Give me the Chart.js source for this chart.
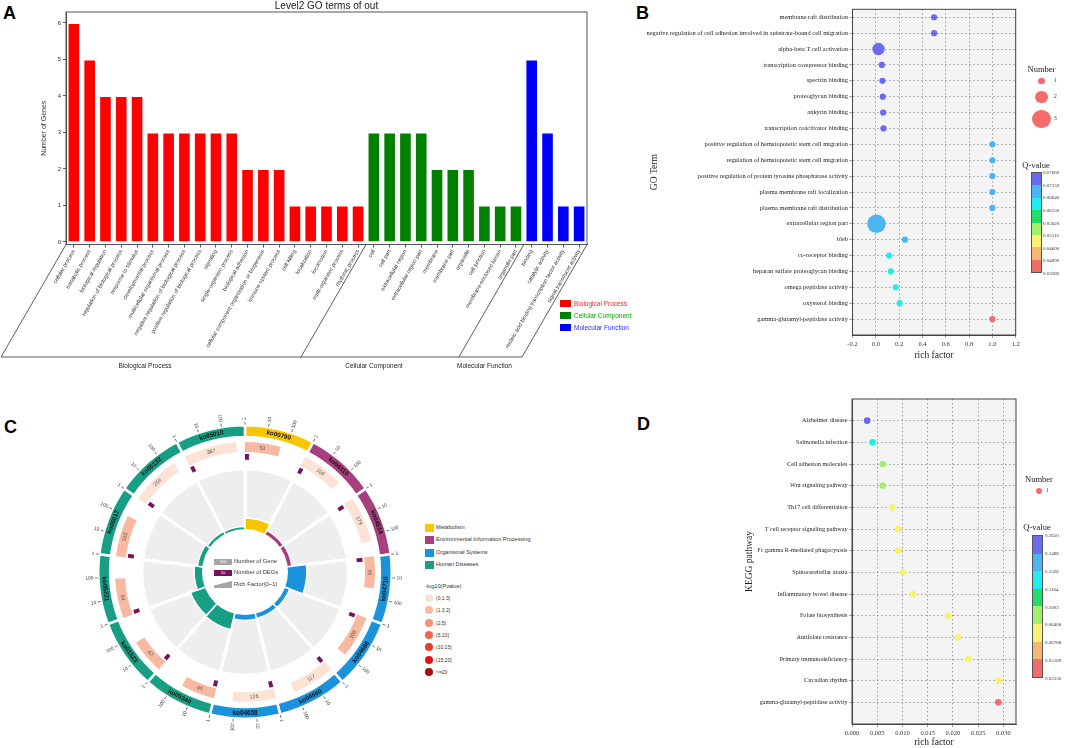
<!DOCTYPE html>
<html>
<head>
<meta charset="utf-8">
<script src="https://cdn.jsdelivr.net/npm/chart.js@4.4.1/dist/chart.umd.min.js"></script>
<style>
  body { margin:0; width:1065px; height:748px; position:relative; overflow:hidden; background:#fff;
         font-family:"Liberation Sans", Arial, sans-serif; color:#333; }
  .pos { position:absolute; }
  .tag { position:absolute; font-weight:bold; font-size:18px; line-height:18px; color:#000; }
</style>
</head>
<body>
<div class="tag" style="left:3px;top:4px">A</div>
<div class="tag" style="left:636px;top:4px">B</div>
<div class="tag" style="left:4px;top:418px">C</div>
<div class="tag" style="left:637px;top:415px">D</div>

<div class="pos" style="left:0;top:0;width:600px;height:380px"><canvas id="chartA"></canvas></div>
<div class="pos" style="left:600px;top:0;width:465px;height:380px"><canvas id="chartB"></canvas></div>
<div class="pos" style="left:75px;top:402px;width:340px;height:340px"><canvas id="chartC"></canvas></div>
<div class="pos" style="left:141px;top:468px;width:208px;height:208px"><canvas id="chartC2"></canvas></div>
<div class="pos" style="left:202px;top:529px;width:86px;height:86px;border-radius:50%;background:#fff"></div>
<div class="pos" style="left:640px;top:385px;width:425px;height:363px"><canvas id="chartD"></canvas></div>

<script>
const SANS = '"Liberation Sans", Arial, sans-serif';
const SERIF = '"Liberation Serif", "Times New Roman", serif';

// ---- A: level2 GO terms ----
const goTerms = ['cellular process', 'metabolic process', 'biological regulation', 'regulation of biological process',
  'response to stimulus', 'developmental process', 'multicellular organismal process',
  'negative regulation of biological process', 'positive regulation of biological process', 'signaling',
  'single-organism process', 'biological adhesion', 'cellular component organization or biogenesis',
  'immune system process', 'cell killing', 'localization', 'locomotion', 'multi-organism process', 'rhythmic process',
  'cell', 'cell part', 'extracellular region', 'extracellular region part', 'membrane', 'membrane part',
  'organelle', 'cell junction', 'membrane-enclosed lumen', 'organelle part',
  'binding', 'catalytic activity', 'nucleic acid binding transcription factor activity', 'signal transducer activity'];
const goCounts = [6, 5, 4, 4, 4, 3, 3, 3, 3, 3, 3, 2, 2, 2, 1, 1, 1, 1, 1,
  3, 3, 3, 3, 2, 2, 2, 1, 1, 1,
  5, 3, 1, 1];
const goGroupNames = ['Biological Process', 'Cellular Component', 'Molecular Function'];
const goGroupSizes = [19, 10, 4];
const goGroupColors = ['#ff0000', '#008000', '#0000ff'];
const goLegendColors = ['#ff2222', '#00a000', '#2a2aff'];
const goYTicks = [0, 1, 2, 3, 4, 5, 6];

// ---- B: GO enrichment bubbles ----
const bTerms = ['membrane raft distribution',
  'negative regulation of cell adhesion involved in substrate-bound cell migration',
  'alpha-beta T cell activation', 'transcription corepressor binding', 'spectrin binding',
  'proteoglycan binding', 'ankyrin binding', 'transcription coactivator binding',
  'positive regulation of hematopoietic stem cell migration', 'regulation of hematopoietic stem cell migration',
  'positive regulation of protein tyrosine phosphatase activity', 'plasma membrane raft localization',
  'plasma membrane raft distribution', 'extracellular region part', 'bleb', 'co-receptor binding',
  'heparan sulfate proteoglycan binding', 'omega peptidase activity', 'oxysterol binding',
  'gamma-glutamyl-peptidase activity'];
const bRich = [0.5, 0.5, 0.023, 0.052, 0.057, 0.06, 0.063, 0.066, 1.0, 1.0, 1.0, 1.0, 1.0,
  0.006, 0.25, 0.115, 0.129, 0.17, 0.204, 1.0];
const bQ = [0.0745, 0.0745, 0.0745, 0.0745, 0.0745, 0.0745, 0.0745, 0.0745,
  0.0690, 0.0690, 0.0690, 0.0690, 0.0690, 0.0690, 0.0690,
  0.0640, 0.0640, 0.0640, 0.0640, 0.0365];
const bNum = [1, 1, 2, 1, 1, 1, 1, 1, 1, 1, 1, 1, 1, 3, 1, 1, 1, 1, 1, 1];
const bXTicks = [-0.2, 0, 0.2, 0.4, 0.6, 0.8, 1.0, 1.2];
const bQTicks = [0.03580, 0.04090, 0.04600, 0.05110, 0.05620, 0.06130, 0.06640, 0.07150, 0.07660];
const bQTickText = ['0.03580', '0.04090', '0.04600', '0.05110', '0.05620', '0.06130', '0.06640', '0.07150', '0.07660'];

// ---- C: circos of KEGG pathways ----
const koIds = ['ko00790', 'ko04310', 'ko04514', 'ko04710', 'ko04666', 'ko04660', 'ko04658',
  'ko05340', 'ko01523', 'ko05221', 'ko05017', 'ko05132', 'ko05010'];
const koClass = [0, 1, 1, 2, 2, 2, 2, 3, 3, 3, 3, 3, 3];
const koGenes = [53, 108, 179, 35, 108, 117, 125, 43, 47, 84, 103, 256, 387];
const koDegs = [1, 1, 1, 1, 1, 1, 1, 1, 1, 1, 1, 1, 1];
const koPBin = [1, 0, 0, 1, 1, 0, 0, 1, 1, 1, 1, 0, 0];
const koRich = [0.18, 0.065, 0.07, 0.31, 0.08, 0.08, 0.09, 0.27, 0.25, 0.13, 0.08, 0.05, 0.04];
const koTickLabels = ['1', '10', '100'];
const classNames = ['Metabolism', 'Environmental Information Processing', 'Organismal Systems', 'Human Diseases'];
const classColors = ['#f7c600', '#a63f7e', '#1a93dc', '#169f84'];
const pBinNames = ['(0,1.3]', '(1.3,2]', '(2,5]', '(5,10]', '(10,15]', '(15,20]', '>=20'];
const pBinColors = ['#fde2d6', '#f8b9a0', '#f6937a', '#f26650', '#ef3b2c', '#e01418', '#a50f15'];
const DEG_COLOR = '#7a1060';

// ---- D: KEGG enrichment bubbles ----
const kTerms = ['Alzheimer disease', 'Salmonella infection', 'Cell adhesion molecules', 'Wnt signaling pathway',
  'Th17 cell differentiation', 'T cell receptor signaling pathway', 'Fc gamma R-mediated phagocytosis',
  'Spinocerebellar ataxia', 'Inflammatory bowel disease', 'Folate biosynthesis', 'Antifolate resistance',
  'Primary immunodeficiency', 'Circadian rhythm', 'gamma-glutamyl-peptidase activity'];
const kRich = [0.0030, 0.0041, 0.0061, 0.0061, 0.0080, 0.0091, 0.0091, 0.0101, 0.0121, 0.0191, 0.0210,
  0.0231, 0.0290, 0.0290];
const kQ = [0.158, 0.125, 0.092, 0.092, 0.075, 0.075, 0.075, 0.075, 0.075, 0.075, 0.075, 0.075, 0.075, 0.045];
const kNum = [1, 1, 1, 1, 1, 1, 1, 1, 1, 1, 1, 1, 1, 1];
const kXTicks = [0, 0.005, 0.010, 0.015, 0.020, 0.025, 0.030];
const kQTicks = [0.03550, 0.05169, 0.06788, 0.08406, 0.1003, 0.1164, 0.1326, 0.1488, 0.1650];
const kQTickText = ['0.03550', '0.05169', '0.06788', '0.08406', '0.1003', '0.1164', '0.1326', '0.1488', '0.1650'];

// Q-value colour bands, low to high
const qColors = ['#f46b6b', '#f7b673', '#f6f46e', '#a2ef6a', '#22dc6c', '#20eeee', '#4cb4f0', '#6b6bf2'];

function qColor(q, ticks) {
  for (let i = 0; i < qColors.length; i++) {
    if (q <= ticks[i + 1]) return qColors[i];
  }
  return qColors[qColors.length - 1];
}

// ---------- shared plugins ----------
const plotBg = {
  id: 'plotBg',
  beforeDraw(c, args, o) {
    const a = c.chartArea;
    c.ctx.save();
    c.ctx.fillStyle = o.color || '#f4f4f4';
    c.ctx.fillRect(a.left, a.top, a.right - a.left, a.bottom - a.top);
    c.ctx.restore();
  }
};
const frame = {
  id: 'frame',
  afterDraw(c, args, o) {
    const a = c.chartArea;
    c.ctx.save();
    c.ctx.strokeStyle = o.color || '#444';
    c.ctx.lineWidth = 1;
    c.ctx.strokeRect(a.left, a.top, a.right - a.left, a.bottom - a.top);
    c.ctx.restore();
  }
};

// ---------- A ----------
const bracket = {
  id: 'bracket',
  afterDraw(c) {
    const xs = c.scales.x, ctx = c.ctx, top = c.chartArea.bottom, base = 357;
    const dx = (base - top) / Math.tan(Math.PI / 3);
    const edges = [-0.5];
    goGroupSizes.forEach(n => edges.push(edges[edges.length - 1] + n));
    const px = edges.map(e => xs.getPixelForValue(e));
    ctx.save();
    ctx.strokeStyle = '#333';
    ctx.lineWidth = 0.8;
    ctx.beginPath();
    px.forEach(p => { ctx.moveTo(p, top); ctx.lineTo(p - dx, base); });
    ctx.moveTo(px[0] - dx, base);
    ctx.lineTo(px[px.length - 1] - dx, base);
    ctx.stroke();
    ctx.fillStyle = '#222';
    ctx.font = '6.5px ' + SANS;
    ctx.textAlign = 'center';
    ctx.textBaseline = 'middle';
    goGroupNames.forEach((g, i) => ctx.fillText(g, (px[i] + px[i + 1]) / 2 - dx - 6, base + 9));
    ctx.restore();
  }
};

const groupOf = [];
goGroupSizes.forEach((n, g) => { for (let i = 0; i < n; i++) groupOf.push(g); });

new Chart(document.getElementById('chartA'), {
  type: 'bar',
  data: {
    labels: goTerms,
    datasets: [{
      data: goCounts,
      backgroundColor: groupOf.map(g => goGroupColors[g]),
      borderColor: 'rgba(255,255,255,0.45)',
      borderWidth: 1,
      barPercentage: 0.8,
      categoryPercentage: 1
    }]
  },
  options: {
    responsive: true, maintainAspectRatio: false, animation: false,
    layout: { padding: { left: 36, right: 13, top: 0, bottom: 0 } },
    plugins: {
      legend: { display: false }, tooltip: { enabled: false },
      title: { display: true, text: 'Level2 GO terms of out', fullSize: false, color: '#222',
        font: { family: SANS, size: 10, weight: 'normal' }, padding: { top: 0, bottom: 0 } },
      frame: { color: '#555' }
    },
    scales: {
      x: {
        grid: { display: true, drawOnChartArea: false, offset: false, tickLength: 3, color: '#555' },
        border: { color: '#555' },
        ticks: { autoSkip: false, minRotation: 60, maxRotation: 60, padding: 1, color: '#333',
          font: { family: SANS, size: 5.5 } },
        afterFit: s => { s.height = 135.5; }
      },
      y: {
        min: -0.07, max: 6.3,
        afterBuildTicks: s => { s.ticks = goYTicks.map(v => ({ value: v })); },
        grid: { display: true, drawOnChartArea: false, tickLength: 3, color: '#555' },
        border: { color: '#555' },
        ticks: { padding: 2, color: '#333', font: { family: SANS, size: 6 } },
        title: { display: true, text: 'Number of Genes', color: '#333', font: { family: SANS, size: 7 },
          padding: { top: 4, bottom: 0 } },
        afterFit: s => { s.width = 30; }
      }
    }
  },
  plugins: [frame, bracket]
});

// ---------- B and D bubble plots ----------
function bubbleChart(id, terms, rich, q, num, qTicks, rScale, xTicks, xFmt, yMin, yMax, xMin, xMax, box, yTitle) {
  return new Chart(document.getElementById(id), {
    type: 'bubble',
    data: {
      datasets: [{
        data: terms.map((t, i) => ({ x: rich[i], y: i, r: num[i] * rScale })),
        backgroundColor: q.map(v => qColor(v, qTicks)),
        borderWidth: 0
      }]
    },
    options: {
      responsive: true, maintainAspectRatio: false, animation: false,
      layout: { padding: box.padding },
      plugins: { legend: { display: false }, tooltip: { enabled: false },
        plotBg: { color: '#f4f4f4' }, frame: { color: '#444' } },
      scales: {
        x: {
          type: 'linear', min: xMin, max: xMax,
          afterBuildTicks: s => { s.ticks = xTicks.map(v => ({ value: v })); },
          ticks: { callback: v => v.toFixed(xFmt), color: '#333', padding: 2, font: { family: SERIF, size: 6.5 } },
          grid: { color: '#777', lineWidth: 0.7, tickLength: 3 },
          border: { color: '#444', dash: [1.5, 2.5] },
          title: { display: true, text: 'rich factor', color: '#222', font: { family: SERIF, size: 9.5 },
            padding: { top: 0, bottom: 0 } },
          afterFit: s => { s.height = box.xh; }
        },
        y: {
          type: 'linear', reverse: true, min: yMin, max: yMax,
          afterBuildTicks: s => { s.ticks = terms.map((t, i) => ({ value: i })); },
          ticks: { callback: v => terms[v], color: '#222', padding: 1.5, font: { family: SERIF, size: box.fs } },
          grid: { color: '#777', lineWidth: 0.7, tickLength: 3 },
          border: { color: '#444', dash: [1.5, 2.5] },
          title: { display: true, text: yTitle, color: '#222', font: { family: SERIF, size: 9.5 },
            padding: { top: 4, bottom: 0 } },
          afterFit: s => { s.width = box.yw; }
        }
      }
    },
    plugins: [plotBg, frame]
  });
}

bubbleChart('chartB', bTerms, bRich, bQ, bNum, bQTicks, 3.1, bXTicks, 1, -0.5, 20, -0.2, 1.2,
  { padding: { left: 45, right: 49.3, top: 5.7, bottom: 19 }, xh: 26, yw: 207.5, fs: 6.4 }, 'GO Term');
bubbleChart('chartD', kTerms, kRich, kQ, kNum, kQTicks, 3.3, kXTicks, 3, -1, 14, 0, 0.0325,
  { padding: { left: 100, right: 49, top: 14, bottom: 0 }, xh: 24, yw: 112, fs: 6.2 }, 'KEGG pathway');

// ---------- C circos ----------
const SPAN = 3; // each sector spans log10 1..1000
const CLEAR = 'rgba(0,0,0,0)';
const norm = a => ((a % (2 * Math.PI)) + 2 * Math.PI) % (2 * Math.PI);

const ringText = {
  id: 'ringText',
  afterDatasetsDraw(c) {
    const ctx = c.ctx;
    function tangent(txt, cx, cy, r, a, font, color) {
      const th = norm(a + Math.PI / 2);
      const rot = (th > Math.PI / 2 && th < 3 * Math.PI / 2) ? th - Math.PI : th;
      ctx.save();
      ctx.translate(cx + r * Math.cos(a), cy + r * Math.sin(a));
      ctx.rotate(rot);
      ctx.font = font;
      ctx.fillStyle = color;
      ctx.textAlign = 'center';
      ctx.textBaseline = 'middle';
      ctx.fillText(txt, 0, 0);
      ctx.restore();
    }
    c.getDatasetMeta(0).data.forEach((arc, i) => {
      const p = arc.getProps(['x', 'y', 'startAngle', 'endAngle', 'innerRadius', 'outerRadius'], true);
      tangent(koIds[i], p.x, p.y, (p.innerRadius + p.outerRadius) / 2, (p.startAngle + p.endAngle) / 2,
        'bold 6.3px ' + SANS, '#111');
      koTickLabels.forEach((lab, k) => {
        const a = p.startAngle + (p.endAngle - p.startAngle) * k / SPAN;
        const th = norm(a + Math.PI / 2);
        ctx.save();
        ctx.translate(p.x, p.y);
        ctx.rotate(a);
        ctx.strokeStyle = '#444';
        ctx.lineWidth = 0.7;
        ctx.beginPath();
        ctx.moveTo(p.outerRadius + 0.5, 0);
        ctx.lineTo(p.outerRadius + 3.5, 0);
        ctx.stroke();
        ctx.font = '4.8px ' + SANS;
        ctx.fillStyle = '#333';
        ctx.textBaseline = 'middle';
        if (th < Math.PI) {
          ctx.textAlign = 'left';
          ctx.fillText(lab, p.outerRadius + 5, 0);
        } else {
          ctx.translate(p.outerRadius + 5, 0);
          ctx.rotate(Math.PI);
          ctx.textAlign = 'right';
          ctx.fillText(lab, 0, 0);
        }
        ctx.restore();
      });
    });
    const genes = c.getDatasetMeta(2).data;
    koGenes.forEach((g, i) => {
      const p = genes[2 * i].getProps(['x', 'y', 'startAngle', 'endAngle', 'innerRadius', 'outerRadius'], true);
      tangent(String(g), p.x, p.y, (p.innerRadius + p.outerRadius) / 2, (p.startAngle + p.endAngle) / 2,
        '5.3px ' + SANS, '#555');
    });
  }
};

const gapRing = w => ({ data: [1], backgroundColor: [CLEAR], borderWidth: 0, weight: w });

new Chart(document.getElementById('chartC'), {
  type: 'doughnut',
  data: {
    labels: koIds,
    datasets: [
      { data: koIds.map(() => SPAN), backgroundColor: koClass.map(k => classColors[k]),
        borderColor: '#fff', borderWidth: 2.5, weight: 12 },
      gapRing(5),
      { data: koGenes.flatMap(g => [Math.log10(g), SPAN - Math.log10(g)]),
        backgroundColor: koPBin.flatMap(b => [pBinColors[b], CLEAR]), borderWidth: 0, weight: 10 },
      gapRing(2),
      { data: koDegs.flatMap(d => [Math.log10(d + 1) * 0.7, SPAN - Math.log10(d + 1) * 0.7]),
        backgroundColor: koDegs.flatMap(() => [DEG_COLOR, CLEAR]), borderWidth: 0, weight: 6 },
      gapRing(9),
      { data: koIds.map(() => SPAN), backgroundColor: '#eeeeee', borderColor: '#fff', borderWidth: 3, weight: 61 }
    ]
  },
  options: {
    responsive: true, maintainAspectRatio: false, animation: false,
    cutout: 43,
    layout: { padding: 22 },
    plugins: { legend: { display: false }, tooltip: { enabled: false } }
  },
  plugins: [ringText]
});

// rich factor bars: value 0 sits on the inner white circle
const RF_BASE = 43 / (104 - 43);
new Chart(document.getElementById('chartC2'), {
  type: 'polarArea',
  data: {
    labels: koIds,
    datasets: [{ data: koRich, backgroundColor: koClass.map(k => classColors[k]), borderColor: '#fff', borderWidth: 1.5 }]
  },
  options: {
    responsive: true, maintainAspectRatio: false, animation: false,
    layout: { padding: 0 },
    plugins: { legend: { display: false }, tooltip: { enabled: false } },
    scales: { r: { display: false, min: -RF_BASE, max: 1 } }
  }
});

// ---------- HTML legends ----------
function box(css) {
  const e = document.createElement('div');
  e.style.cssText = 'position:absolute;' + css;
  document.body.appendChild(e);
  return e;
}
function text(x, y, txt, size, opt = {}) {
  const e = box('left:' + x + 'px;top:' + y + 'px;font-size:' + size + 'px;line-height:1;white-space:nowrap;' +
    'color:' + (opt.color || '#333') + ';font-family:' + (opt.family || SANS) + ';' +
    'transform:translate(' + (opt.center ? '-50%' : '0') + ',-50%);' + (opt.weight ? 'font-weight:' + opt.weight + ';' : ''));
  e.textContent = txt;
  return e;
}
function colorBar(x, y, w, h, ticksText, labelX, size) {
  const n = qColors.length;
  const stops = qColors.map((c, i) => c + ' ' + (i * 100 / n) + '%,' + c + ' ' + ((i + 1) * 100 / n) + '%').join(',');
  box('left:' + x + 'px;top:' + y + 'px;width:' + w + 'px;height:' + h + 'px;border:1px solid #555;box-sizing:border-box;' +
    'background:linear-gradient(to top,' + stops + ')');
  ticksText.forEach((t, i) => {
    text(labelX, y + h - i * h / (ticksText.length - 1), t, size, { family: SERIF });
  });
}

// A legend
goGroupNames.forEach((g, i) => {
  box('left:560px;top:' + (300 + i * 12) + 'px;width:11px;height:7px;background:' + goGroupColors[i]);
  text(574, 304 + i * 12, g, 6.5, { color: goLegendColors[i] });
});

// B legends
text(1041.5, 69, 'Number', 8.5, { family: SERIF, center: true, color: '#222' });
[1, 2, 3].forEach((n, i) => {
  const r = n * 3.1, cy = [81, 97, 119][i];
  box('left:' + (1041.5 - r) + 'px;top:' + (cy - r) + 'px;width:' + 2 * r + 'px;height:' + 2 * r +
    'px;border-radius:50%;background:' + qColors[0]);
  text(1054, cy, String(n), 5.5, { family: SERIF });
});
text(1036, 164.5, 'Q-value', 8.5, { family: SERIF, center: true, color: '#222' });
colorBar(1031, 172, 10.5, 101, bQTickText, 1043, 5);

// D legends
text(1039, 479, 'Number', 8.5, { family: SERIF, center: true, color: '#222' });
box('left:' + (1039 - 3.3) + 'px;top:' + (491 - 3.3) + 'px;width:6.6px;height:6.6px;border-radius:50%;background:' + qColors[0]);
text(1046, 491, '1', 5.5, { family: SERIF });
text(1037, 527, 'Q-value', 8.5, { family: SERIF, center: true, color: '#222' });
colorBar(1032, 535, 11, 143, kQTickText, 1045, 5);

// C legends
classNames.forEach((nm, i) => {
  const cy = [528, 540, 553, 565][i];
  box('left:425px;top:' + (cy - 4) + 'px;width:9px;height:8px;background:' + classColors[i]);
  text(436, cy, nm, 5.6);
});
text(425, 587, '-log10(Pvalue)', 5.6);
pBinNames.forEach((nm, i) => {
  const cy = 598 + i * 12.3;
  box('left:425px;top:' + (cy - 4) + 'px;width:8px;height:8px;border-radius:50%;background:' + pBinColors[i]);
  text(436, cy, nm, 5);
});

// centre key of the circos
box('left:214px;top:559px;width:18px;height:6px;background:#a6a6a6;color:#fff;font-size:4px;line-height:6px;text-align:center').textContent = '100';
text(234, 562, 'Number of Gene', 5.8);
box('left:214px;top:570px;width:18px;height:6px;background:' + DEG_COLOR + ';color:#fff;font-size:4px;line-height:6px;text-align:center').textContent = '10';
text(234, 573, 'Number of DEGs', 5.8);
box('left:214px;top:581px;width:18px;height:7px;background:#a6a6a6;clip-path:polygon(0 65%,100% 0,100% 100%,0 100%)');
text(234, 584.5, 'Rich Factor(0~1)', 5.8);
</script>
</body>
</html>
